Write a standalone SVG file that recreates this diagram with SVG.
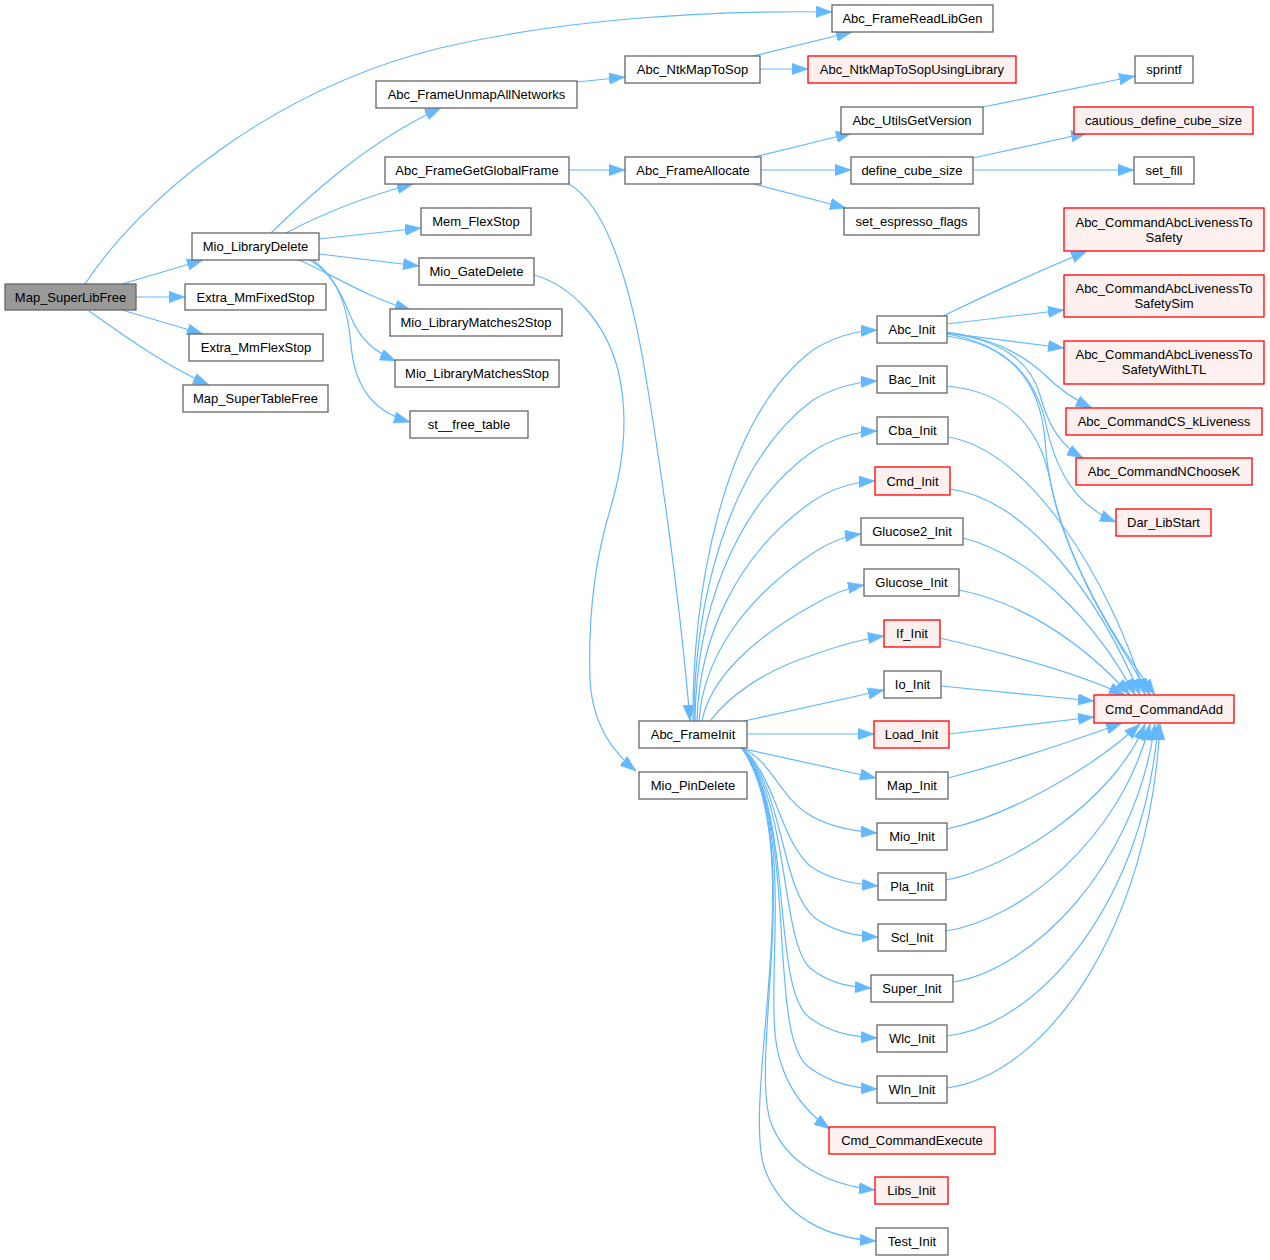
<svg xmlns="http://www.w3.org/2000/svg" width="1270" height="1260" viewBox="0 0 1270 1260">
<style>
.n rect{fill:#ffffff;stroke:#666666;stroke-width:1.3}
.r rect{fill:#fff0f0;stroke:#ff0000;stroke-width:1.3}
.root rect{fill:#999999;stroke:#666666;stroke-width:1.3}
text{font-family:"Liberation Sans",Arial,Helvetica,sans-serif;font-size:13px;text-anchor:middle;fill:#000000}
.e path{fill:none;stroke:#63b8ff;stroke-width:1.2;marker-end:url(#a)}
</style>
<defs>
<marker id="a" markerUnits="userSpaceOnUse" markerWidth="16" markerHeight="12" viewBox="0 0 14 10" refX="14" refY="5" orient="auto">
<path d="M0,0 L14,5 L0,10 z" fill="#63b8ff" stroke="#63b8ff" stroke-width="0.5"/>
</marker>
</defs>
<rect width="1270" height="1260" fill="#ffffff"/>
<g class="e" id="edges">
<path d="M85,284 C140,200 270,90 440,48 C560,20 700,10 832,12"/>
<path d="M122,284 L203,260"/>
<path d="M136,297 L185,297"/>
<path d="M122,310 L203,334"/>
<path d="M89,311 C130,340 170,368 209,385"/>
<path d="M271,233 C310,195 370,140 441,108"/>
<path d="M286,233 C320,215 360,198 413,184"/>
<path d="M319,239 L421,228"/>
<path d="M319,254 L419,266"/>
<path d="M299,260 C330,273 365,297 411,310"/>
<path d="M310,260 C330,272 340,290 350,315 C360,340 375,352 396,361"/>
<path d="M313,260 C340,280 348,310 351,345 C355,390 375,412 410,422"/>
<path d="M577,82 L625,77"/>
<path d="M753,56 L852,32"/>
<path d="M760,69 L808,69"/>
<path d="M569,170 L625,170"/>
<path d="M567,183 C600,200 625,260 643,360 C660,460 680,600 690,721"/>
<path d="M754,157 L852,133"/>
<path d="M761,170 L851,170"/>
<path d="M754,184 L846,208"/>
<path d="M983,107 L1135,76"/>
<path d="M973,158 L1087,133"/>
<path d="M973,170 L1134,170"/>
<path d="M534,275 C570,285 605,320 618,370 C630,420 622,470 610,510 C595,560 588,620 590,680 C592,720 610,750 636,771"/>
<path d="M693,721 C692,600 720,420 813,350 C835,336 855,331 877,330"/>
<path d="M694,721 C694,610 725,465 813,400 C835,387 855,382 877,381"/>
<path d="M695,721 C696,620 730,510 813,451 C835,437 855,432 877,431"/>
<path d="M697,721 C699,640 735,555 813,501 C833,488 853,482 875,481"/>
<path d="M699,721 C703,660 742,600 813,553 C828,543 845,536 861,534"/>
<path d="M702,721 C710,680 750,640 813,605 C830,595 847,588 864,585"/>
<path d="M710,721 C730,695 765,670 813,655 C840,645 862,639 884,636"/>
<path d="M744,721 L884,690"/>
<path d="M747,734 L874,734"/>
<path d="M740,748 L876,778"/>
<path d="M742,748 C770,760 780,795 805,812 C825,826 850,831 877,833"/>
<path d="M742,748 C775,775 780,840 810,866 C830,880 855,884 878,886"/>
<path d="M742,748 C785,790 780,890 815,918 C835,932 855,936 878,937"/>
<path d="M742,748 C790,800 780,940 810,968 C830,984 850,987 871,988"/>
<path d="M742,748 C795,810 770,990 810,1018 C832,1034 855,1037 877,1038"/>
<path d="M742,748 C800,820 765,1040 810,1068 C832,1084 855,1088 877,1089"/>
<path d="M742,748 C800,830 760,1000 780,1060 C790,1095 810,1115 830,1129"/>
<path d="M742,748 C805,840 750,1050 770,1120 C785,1165 830,1185 875,1190"/>
<path d="M742,748 C810,850 740,1100 765,1170 C785,1220 830,1238 876,1241"/>
<path d="M943,316 C980,298 1030,275 1087,251"/>
<path d="M947,324 L1064,310"/>
<path d="M947,333 L1064,348"/>
<path d="M947,332 C990,338 1020,352 1045,375 C1060,390 1075,400 1092,408"/>
<path d="M947,333 C1000,340 1030,360 1040,395 C1048,425 1060,445 1083,458"/>
<path d="M947,334 C1010,345 1035,380 1045,420 C1055,470 1075,505 1116,522"/>
<path d="M947,336 C1010,345 1040,380 1045,440 C1050,530 1100,620 1155,695"/>
<path d="M947,386 C1010,392 1040,430 1050,480 C1065,560 1110,630 1150,695"/>
<path d="M948,437 C1030,450 1110,580 1145,695"/>
<path d="M950,489 C1030,500 1100,600 1140,695"/>
<path d="M963,538 C1030,555 1095,620 1135,695"/>
<path d="M959,590 C1020,602 1080,640 1130,695"/>
<path d="M940,638 C1000,652 1070,670 1125,695"/>
<path d="M941,686 L1094,701"/>
<path d="M949,734 L1094,717"/>
<path d="M948,778 C1010,762 1070,742 1122,723"/>
<path d="M947,829 C1010,815 1090,770 1140,724"/>
<path d="M946,880 C1010,868 1115,800 1145,724"/>
<path d="M946,931 C1020,920 1120,840 1150,724"/>
<path d="M953,982 C1030,970 1135,870 1155,724"/>
<path d="M947,1036 C1040,1025 1145,900 1158,724"/>
<path d="M947,1088 C1045,1075 1150,930 1160,724"/>
</g>
<g id="Map_SuperLibFree" class="root"><rect x="5" y="284" width="131" height="26"/><text x="70.5" y="301.5">Map_SuperLibFree</text></g>
<g id="Mio_LibraryDelete" class="n"><rect x="192" y="233" width="127" height="27"/><text x="255.5" y="251">Mio_LibraryDelete</text></g>
<g id="Extra_MmFixedStop" class="n"><rect x="185" y="284" width="141" height="26"/><text x="255.5" y="301.5">Extra_MmFixedStop</text></g>
<g id="Extra_MmFlexStop" class="n"><rect x="189" y="334" width="134" height="27"/><text x="256" y="352">Extra_MmFlexStop</text></g>
<g id="Map_SuperTableFree" class="n"><rect x="183" y="385" width="145" height="27"/><text x="255.5" y="403">Map_SuperTableFree</text></g>
<g id="Abc_FrameUnmapAllNetworks" class="n"><rect x="376" y="81" width="201" height="27"/><text x="476.5" y="99">Abc_FrameUnmapAllNetworks</text></g>
<g id="Abc_FrameGetGlobalFrame" class="n"><rect x="385" y="157" width="184" height="27"/><text x="477" y="175">Abc_FrameGetGlobalFrame</text></g>
<g id="Mem_FlexStop" class="n"><rect x="421" y="208" width="110" height="27"/><text x="476" y="226">Mem_FlexStop</text></g>
<g id="Mio_GateDelete" class="n"><rect x="419" y="258" width="115" height="27"/><text x="476.5" y="276">Mio_GateDelete</text></g>
<g id="Mio_LibraryMatches2Stop" class="n"><rect x="390" y="309" width="172" height="27"/><text x="476" y="327">Mio_LibraryMatches2Stop</text></g>
<g id="Mio_LibraryMatchesStop" class="n"><rect x="395" y="360" width="164" height="27"/><text x="477" y="378">Mio_LibraryMatchesStop</text></g>
<g id="st__free_table" class="n"><rect x="410" y="411" width="118" height="27"/><text x="469" y="429">st__free_table</text></g>
<g id="Abc_FrameReadLibGen" class="n"><rect x="832" y="5" width="161" height="27"/><text x="912.5" y="23">Abc_FrameReadLibGen</text></g>
<g id="Abc_NtkMapToSop" class="n"><rect x="625" y="56" width="135" height="27"/><text x="692.5" y="74">Abc_NtkMapToSop</text></g>
<g id="Abc_NtkMapToSopUsingLibrary" class="r"><rect x="808" y="56" width="208" height="27"/><text x="912" y="74">Abc_NtkMapToSopUsingLibrary</text></g>
<g id="Abc_FrameAllocate" class="n"><rect x="625" y="157" width="136" height="27"/><text x="693" y="175">Abc_FrameAllocate</text></g>
<g id="Abc_FrameInit" class="n"><rect x="639" y="721" width="108" height="27"/><text x="693" y="739">Abc_FrameInit</text></g>
<g id="Mio_PinDelete" class="n"><rect x="639" y="772" width="108" height="27"/><text x="693" y="790">Mio_PinDelete</text></g>
<g id="sprintf" class="n"><rect x="1135" y="56" width="58" height="27"/><text x="1164" y="74">sprintf</text></g>
<g id="Abc_UtilsGetVersion" class="n"><rect x="841" y="107" width="142" height="27"/><text x="912" y="125">Abc_UtilsGetVersion</text></g>
<g id="cautious_define_cube_size" class="r"><rect x="1074" y="107" width="179" height="27"/><text x="1163.5" y="125">cautious_define_cube_size</text></g>
<g id="define_cube_size" class="n"><rect x="851" y="157" width="122" height="27"/><text x="912" y="175">define_cube_size</text></g>
<g id="set_fill" class="n"><rect x="1134" y="157" width="60" height="27"/><text x="1164" y="175">set_fill</text></g>
<g id="set_espresso_flags" class="n"><rect x="844" y="208" width="135" height="27"/><text x="911.5" y="226">set_espresso_flags</text></g>
<g id="Abc_CommandAbcLivenessToSafety" class="r"><rect x="1064" y="208" width="200" height="43"/><text x="1164" y="226.5">Abc_CommandAbcLivenessTo</text><text x="1164" y="241.5">Safety</text></g>
<g id="Abc_CommandAbcLivenessToSafetySim" class="r"><rect x="1064" y="275" width="200" height="42"/><text x="1164" y="292.5">Abc_CommandAbcLivenessTo</text><text x="1164" y="307.5">SafetySim</text></g>
<g id="Abc_CommandAbcLivenessToSafetyWithLTL" class="r"><rect x="1064" y="341" width="200" height="43"/><text x="1164" y="359">Abc_CommandAbcLivenessTo</text><text x="1164" y="374">SafetyWithLTL</text></g>
<g id="Abc_CommandCS_kLiveness" class="r"><rect x="1066" y="408" width="196" height="27"/><text x="1164" y="426">Abc_CommandCS_kLiveness</text></g>
<g id="Abc_CommandNChooseK" class="r"><rect x="1076" y="458" width="176" height="27"/><text x="1164" y="476">Abc_CommandNChooseK</text></g>
<g id="Dar_LibStart" class="r"><rect x="1116" y="509" width="95" height="27"/><text x="1163.5" y="527">Dar_LibStart</text></g>
<g id="Abc_Init" class="n"><rect x="877" y="316" width="70" height="27"/><text x="912" y="334">Abc_Init</text></g>
<g id="Bac_Init" class="n"><rect x="877" y="366" width="70" height="27"/><text x="912" y="384">Bac_Init</text></g>
<g id="Cba_Init" class="n"><rect x="877" y="417" width="71" height="27"/><text x="912.5" y="435">Cba_Init</text></g>
<g id="Cmd_Init" class="r"><rect x="875" y="467" width="75" height="28"/><text x="912.5" y="485.5">Cmd_Init</text></g>
<g id="Glucose2_Init" class="n"><rect x="861" y="518" width="102" height="27"/><text x="912" y="536">Glucose2_Init</text></g>
<g id="Glucose_Init" class="n"><rect x="864" y="569" width="95" height="27"/><text x="911.5" y="587">Glucose_Init</text></g>
<g id="If_Init" class="r"><rect x="884" y="620" width="56" height="27"/><text x="912" y="638">If_Init</text></g>
<g id="Io_Init" class="n"><rect x="884" y="671" width="57" height="27"/><text x="912.5" y="689">Io_Init</text></g>
<g id="Load_Init" class="r"><rect x="874" y="721" width="75" height="27"/><text x="911.5" y="739">Load_Init</text></g>
<g id="Map_Init" class="n"><rect x="876" y="772" width="72" height="27"/><text x="912" y="790">Map_Init</text></g>
<g id="Mio_Init" class="n"><rect x="877" y="823" width="70" height="27"/><text x="912" y="841">Mio_Init</text></g>
<g id="Pla_Init" class="n"><rect x="878" y="873" width="68" height="27"/><text x="912" y="891">Pla_Init</text></g>
<g id="Scl_Init" class="n"><rect x="878" y="924" width="68" height="27"/><text x="912" y="942">Scl_Init</text></g>
<g id="Super_Init" class="n"><rect x="871" y="975" width="82" height="27"/><text x="912" y="993">Super_Init</text></g>
<g id="Wlc_Init" class="n"><rect x="877" y="1025" width="70" height="27"/><text x="912" y="1043">Wlc_Init</text></g>
<g id="Wln_Init" class="n"><rect x="877" y="1076" width="70" height="27"/><text x="912" y="1094">Wln_Init</text></g>
<g id="Cmd_CommandExecute" class="r"><rect x="829" y="1127" width="166" height="27"/><text x="912" y="1145">Cmd_CommandExecute</text></g>
<g id="Libs_Init" class="r"><rect x="875" y="1177" width="73" height="27"/><text x="911.5" y="1195">Libs_Init</text></g>
<g id="Test_Init" class="n"><rect x="876" y="1228" width="72" height="27"/><text x="912" y="1246">Test_Init</text></g>
<g id="Cmd_CommandAdd" class="r"><rect x="1094" y="695" width="140" height="28"/><text x="1164" y="713.5">Cmd_CommandAdd</text></g>
</svg>
